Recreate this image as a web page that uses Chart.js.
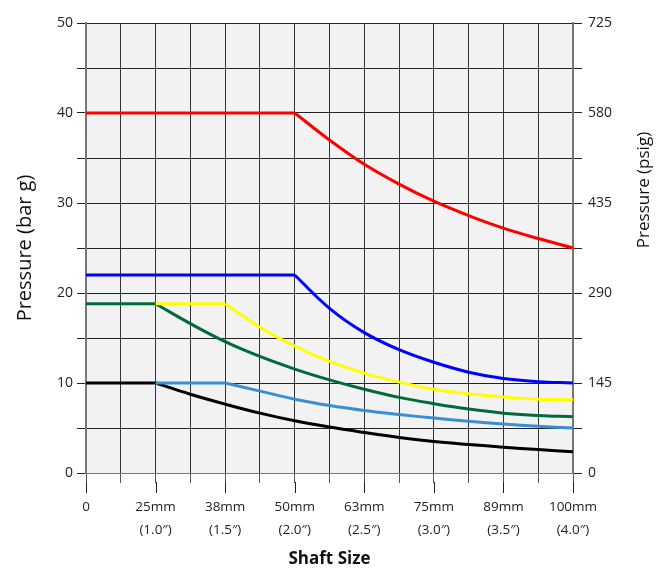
<!DOCTYPE html>
<html lang="en">
<head>
<meta charset="UTF-8">
<title>Pressure vs Shaft Size</title>
<script src="https://cdn.jsdelivr.net/npm/chart.js"></script>
<style>
  body { margin: 0; background: #fff; }
  .wrap { width: 660px; height: 569px; position: relative; }
</style>
</head>
<body>
<div class="wrap"><canvas id="chart"></canvas></div>
<script>
// x positions: one step per shaft size, half steps between them
const positions = [0, 0.5, 1, 1.5, 2, 2.5, 3, 3.5, 4, 4.5, 5, 5.5, 6, 6.5, 7];
const sizeLabels = ['0', '25mm', '38mm', '50mm', '63mm', '75mm', '89mm', '100mm'];
const inchLabels = ['', '(1.0\u2033)', '(1.5\u2033)', '(2.0\u2033)', '(2.5\u2033)', '(3.0\u2033)', '(3.5\u2033)', '(4.0\u2033)'];

// pressure in bar g, null = no line there
const redValues    = [40, 40, 40, 40, 40, 40, 40, 37.0, 34.3, 32.1, 30.2, 28.6, 27.2, 26.05, 25.0];
const blueValues   = [22, 22, 22, 22, 22, 22, 22, 18.3, 15.6, 13.7, 12.3, 11.2, 10.5, 10.15, 10.0];
const yellowValues = [null, null, 18.8, 18.8, 18.8, 16.2, 14.1, 12.4, 11.1, 10.1, 9.3, 8.8, 8.45, 8.2, 8.15];
const greenValues  = [18.8, 18.8, 18.8, 16.6, 14.6, 12.95, 11.55, 10.35, 9.3, 8.4, 7.7, 7.1, 6.65, 6.4, 6.25];
const ltBlueValues = [null, null, 10, 10, 10, 9.1, 8.2, 7.5, 6.95, 6.5, 6.1, 5.75, 5.45, 5.2, 5.0];
const blackValues  = [10, 10, 10, 8.75, 7.65, 6.65, 5.8, 5.1, 4.5, 3.95, 3.5, 3.17, 2.87, 2.6, 2.35];

// index where the flat part ends and the curve begins
const series = [
  { values: redValues,    kink: 6, color: '#ff0000' },
  { values: blueValues,   kink: 6, color: '#0000ff' },
  { values: yellowValues, kink: 4, color: '#ffff00' },
  { values: greenValues,  kink: 2, color: '#006b3a' },
  { values: ltBlueValues, kink: 4, color: '#3a8fd0' },
  { values: blackValues,  kink: 2, color: '#000000' }
];

const barMax = 50;
const psigMax = 725;

function points(values, from, to) {
  const pts = [];
  for (let i = from; i <= to; i++) {
    if (values[i] !== null) pts.push({ x: positions[i], y: values[i] });
  }
  return pts;
}

const datasets = [];
series.forEach(s => {
  // flat part: straight
  datasets.push({
    data: points(s.values, 0, s.kink),
    borderColor: s.color, borderWidth: 3, pointRadius: 0, tension: 0, fill: false
  });
  // falling part: smooth
  datasets.push({
    data: points(s.values, s.kink, positions.length - 1),
    borderColor: s.color, borderWidth: 3, pointRadius: 0, tension: 0.4, fill: false
  });
});

const fontFamily = '"Open Sans", sans-serif';

const plotBg = {
  id: 'plotBg',
  beforeDraw(chart) {
    const { ctx, chartArea: a } = chart;
    ctx.save();
    ctx.fillStyle = '#f2f2f2';
    ctx.fillRect(a.left, a.top, a.width, a.height);
    ctx.restore();
  },
  afterDraw(chart) {
    const { ctx, chartArea: a, scales } = chart;
    ctx.save();
    // longer ticks under each labelled shaft size
    ctx.strokeStyle = '#222';
    ctx.lineWidth = 1;
    for (let i = 0; i < sizeLabels.length; i++) {
      const x = Math.round(scales.x.getPixelForValue(i)) + 0.5;
      ctx.beginPath();
      ctx.moveTo(x, a.bottom + 9);
      ctx.lineTo(x, a.bottom + 20);
      ctx.stroke();
    }
    // right axis title reads bottom to top, like the left one
    ctx.translate(644, 190);
    ctx.rotate(-Math.PI / 2);
    ctx.fillStyle = '#111';
    ctx.font = '17px ' + fontFamily;
    ctx.textAlign = 'center';
    ctx.textBaseline = 'middle';
    ctx.fillText('Pressure (psig)', 0, 0);
    ctx.restore();
  }
};

const tickFont = { family: fontFamily, size: 14 };

new Chart(document.getElementById('chart'), {
  type: 'line',
  data: { datasets },
  plugins: [plotBg],
  options: {
    responsive: true,
    maintainAspectRatio: false,
    animation: false,
    layout: { padding: { top: 23, left: 0, right: 0, bottom: 0 } },
    plugins: { legend: { display: false }, tooltip: { enabled: false } },
    scales: {
      x: {
        type: 'linear', min: 0, max: 7,
        ticks: {
          stepSize: 0.5, autoSkip: false, maxRotation: 0, padding: 13,
          color: '#222', font: { family: fontFamily, size: 13.5, lineHeight: 1.7 },
          callback: v => Number.isInteger(v) ? [sizeLabels[v], inchLabels[v]] : ''
        },
        grid: { color: '#333', lineWidth: 1, tickLength: 10, tickColor: '#555' },
        border: { color: '#777', width: 1 },
        title: {
          display: true, text: 'Shaft Size', color: '#111',
          font: { family: fontFamily, size: 17, weight: 'bold', lineHeight: 1 },
          padding: { top: 0, bottom: 1 }
        },
        afterFit: s => { s.height = 96; }
      },
      y: {
        position: 'left', min: 0, max: barMax,
        ticks: {
          stepSize: 5, autoSkip: false, padding: 4, color: '#222', font: tickFont,
          callback: v => v % 10 === 0 ? v : ''
        },
        grid: { color: '#222', lineWidth: 1, tickLength: 9 },
        border: { color: '#777', width: 2 },
        title: {
          display: true, text: 'Pressure (bar g)', color: '#111',
          font: { family: fontFamily, size: 20 },
          padding: { top: 13, bottom: 0 }
        },
        afterFit: s => { s.width = 86; }
      },
      y2: {
        position: 'right', min: 0, max: psigMax,
        ticks: {
          stepSize: 72.5, autoSkip: false, padding: 6, color: '#222', font: tickFont,
          callback: v => {
            const r = v / 145;
            return Math.abs(r - Math.round(r)) < 1e-6 ? Math.round(v) : '';
          }
        },
        grid: { drawOnChartArea: false, color: '#222', tickLength: 9 },
        border: { color: '#777', width: 2 },
        afterFit: s => { s.width = 87; }
      }
    }
  }
});
</script>
</body>
</html>
